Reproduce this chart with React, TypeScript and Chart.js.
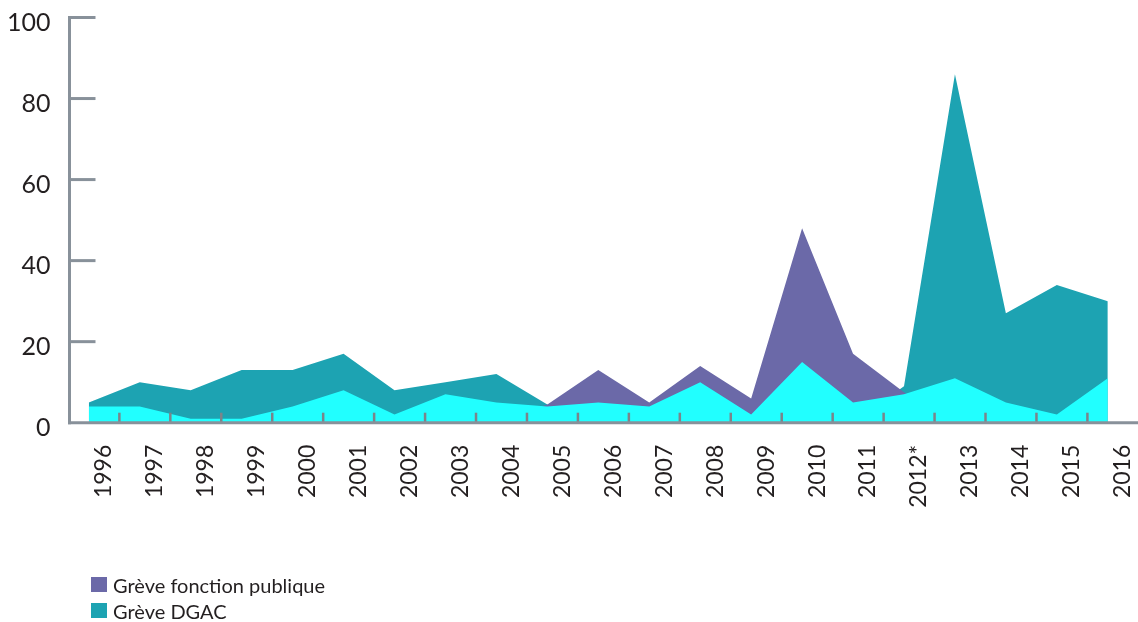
import { useEffect, useRef } from "react";
import { Chart, registerables } from "chart.js";

Chart.register(...registerables);

// ---- data ----
const years = [
  "1996", "1997", "1998", "1999", "2000", "2001", "2002", "2003", "2004", "2005",
  "2006", "2007", "2008", "2009", "2010", "2011", "2012*", "2013", "2014", "2015", "2016",
];
const autres = [4, 4, 1, 1, 4, 8, 2, 7, 5, 4, 5, 4, 10, 2, 15, 5, 7, 11, 5, 2, 11];
const greveFonctionPublique = [0, 0, 0, 0, 0, 0, 0, 0, 0, 4.5, 13, 5, 14, 6, 48, 17, 7.5, 0, 0, 0, 0];
const greveDGAC = [5, 10, 8, 13, 13, 17, 8, 10, 12, 4.5, 0, 0, 0, 0, 0, 0, 9, 86, 27, 34, 30];
const yTickValues = [0, 20, 40, 60, 80, 100];
const legendLabels = ["Grève fonction publique", "Grève DGAC"];

// ---- styles ----
const CYAN = "#21FFFF";
const PURPLE = "#6B69A8";
const TEAL = "#1DA3B2";
const AXIS = "#88919A";
const TICK = "#7C848A";
const TEXT = "#231F20";
const FONT = "Lato, 'Open Sans', sans-serif";

const toPoints = (arr: number[]) => arr.map((v, i) => ({ x: i, y: v }));

const zeroPadding = (scale: any) => {
  scale.paddingTop = 0;
  scale.paddingBottom = 0;
  scale.paddingLeft = 0;
  scale.paddingRight = 0;
};

const axisDecor = {
  id: "axisDecor",
  afterDatasetsDraw(chart: any) {
    const { ctx, chartArea, scales } = chart;
    const { left, bottom } = chartArea;
    const x = scales.x;
    const y = scales.y;
    ctx.save();
    ctx.lineCap = "butt";
    // x tick marks (between categories)
    ctx.strokeStyle = TICK;
    ctx.lineWidth = 2.5;
    for (let i = 0; i < years.length - 1; i++) {
      const px = x.getPixelForValue(i + 0.6);
      ctx.beginPath();
      ctx.moveTo(px, bottom - 10);
      ctx.lineTo(px, bottom);
      ctx.stroke();
    }
    // y tick marks
    ctx.strokeStyle = AXIS;
    ctx.lineWidth = 3;
    yTickValues.forEach((v) => {
      if (v === 0) return;
      const py = y.getPixelForValue(v);
      ctx.beginPath();
      ctx.moveTo(left, py);
      ctx.lineTo(left + 26, py);
      ctx.stroke();
    });
    // y axis line
    const topPx = y.getPixelForValue(yTickValues[yTickValues.length - 1]);
    ctx.beginPath();
    ctx.moveTo(left, topPx - 1.5);
    ctx.lineTo(left, bottom + 1.5);
    ctx.stroke();
    // x axis line
    ctx.beginPath();
    ctx.moveTo(left - 1.5, bottom);
    ctx.lineTo(chart.width, bottom);
    ctx.stroke();
    ctx.restore();
  },
};

export default function App() {
  const canvasRef = useRef<HTMLCanvasElement | null>(null);

  useEffect(() => {
    if (!canvasRef.current) return;
    const chart = new Chart(canvasRef.current, {
      type: "line",
      data: {
        datasets: [
          {
            label: "Autres",
            data: toPoints(autres),
            backgroundColor: CYAN,
            borderWidth: 0,
            pointRadius: 0,
            fill: "origin",
          },
          {
            label: legendLabels[0],
            data: toPoints(greveFonctionPublique),
            backgroundColor: PURPLE,
            borderWidth: 0,
            pointRadius: 0,
            fill: "origin",
          },
          {
            label: legendLabels[1],
            data: toPoints(greveDGAC),
            backgroundColor: TEAL,
            borderWidth: 0,
            pointRadius: 0,
            fill: "origin",
          },
        ],
      },
      options: {
        animation: false,
        responsive: true,
        maintainAspectRatio: false,
        layout: { padding: { top: 17.5, right: 0, bottom: 0, left: 0 } },
        plugins: {
          legend: { display: false },
          tooltip: { enabled: false },
        },
        elements: { line: { tension: 0 } },
        scales: {
          x: {
            type: "linear",
            min: -0.379,
            max: 20.593,
            grid: { display: false, drawTicks: false },
            border: { display: false },
            afterBuildTicks: (scale: any) => {
              scale.ticks = years.map((_, i) => ({ value: i }));
            },
            afterFit: (scale: any) => {
              scale.height = 199.3;
              zeroPadding(scale);
            },
            ticks: {
              autoSkip: false,
              maxRotation: 90,
              minRotation: 90,
              padding: 22,
              labelOffset: 15,
              color: TEXT,
              font: { family: FONT, size: 23 },
              callback: (value: any) => years[value as number] ?? "",
            },
          },
          y: {
            min: 0,
            max: 100,
            grid: { display: false, drawTicks: false },
            border: { display: false },
            afterFit: (scale: any) => {
              scale.width = 69.5;
              zeroPadding(scale);
            },
            ticks: {
              stepSize: 20,
              padding: 19,
              labelOffset: 5,
              color: TEXT,
              font: { family: FONT, size: 25 },
            },
          },
        },
      },
      plugins: [axisDecor],
    });
    return () => chart.destroy();
  }, []);

  const legendColors = [PURPLE, TEAL];

  return (
    <div style={{ position: "fixed", left: 0, top: 0, width: 1138, height: 622, background: "#fff" }}>
      <canvas ref={canvasRef} />
      <div
        style={{
          position: "absolute",
          left: 91,
          top: 571.5,
          fontFamily: FONT,
          fontSize: 20,
          lineHeight: "26px",
          color: TEXT,
        }}
      >
        {legendLabels.map((label, i) => (
          <div key={label} style={{ display: "flex", alignItems: "center", height: 26 }}>
            <span
              style={{
                display: "inline-block",
                width: 16,
                height: 15,
                background: legendColors[i],
                marginRight: 6,
              }}
            />
            <span>{label}</span>
          </div>
        ))}
      </div>
    </div>
  );
}
